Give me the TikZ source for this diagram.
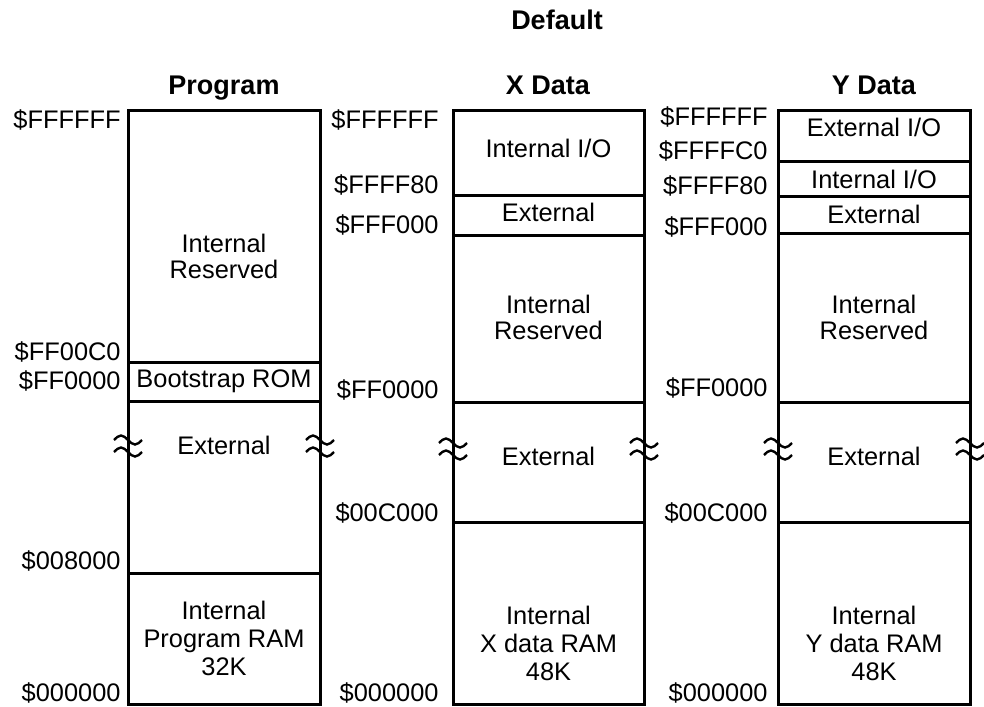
\documentclass[tikz,border=0pt]{standalone}
\usepackage{fontspec}
\setmainfont{Liberation Sans}
\begin{document}
\begin{tikzpicture}[x=0.5pt,y=-0.5pt,
  membox/.style={line width=1.5pt},
  divline/.style={line width=1.5pt},
  brkline/.style={line width=1.2pt},
  addr/.style={anchor=base east,inner sep=0pt,font=\fontsize{12.7}{14}\selectfont},
  lbl/.style={anchor=base,inner sep=0pt,font=\fontsize{12.7}{14}\selectfont},
  ttl/.style={anchor=base,inner sep=0pt,font=\bfseries\fontsize{13.5}{15}\selectfont}]
\useasboundingbox (0,0) rectangle (984,706);

% titles
\node[ttl] (tdef) at (557,30) {Default};
\node[ttl] (tprog) at (224,95) {Program};
\node[ttl] (tx) at (548,95) {X Data};
\node[ttl] (ty) at (874,95) {Y Data};

% boxes
\draw[membox] (128,111) rectangle (320,704);
\draw[membox] (453,111) rectangle (644,704);
\draw[membox] (778,111) rectangle (970,704);

% dividers
\foreach \yy in {362,401,573} \draw[divline] (128,\yy) -- (320,\yy);
\foreach \yy in {195,235,402,522} \draw[divline] (453,\yy) -- (644,\yy);
\foreach \yy in {161,196,233,402,522} \draw[divline] (778,\yy) -- (970,\yy);

% break marks
\foreach \xx/\yy in {128/440,128/452,320/440,320/452,
                     453/443,453/455,644/443,644/455,
                     778/443,778/455,970/443,970/455}
  \draw[brkline] (\xx-14,\yy) sin (\xx-7,\yy-4.5) cos (\xx,\yy) sin (\xx+7,\yy+4.5) cos (\xx+14,\yy);

% Program addresses
\node[addr] (pa1) at (121,128) {\$FFFFFF};
\node[addr] (pa2) at (121,360) {\$FF00C0};
\node[addr] (pa3) at (121,389) {\$FF0000};
\node[addr] (pa4) at (121,569) {\$008000};
\node[addr] (pa5) at (121,701) {\$000000};

% X addresses
\node[addr] (xa1) at (439,128) {\$FFFFFF};
\node[addr] (xa2) at (439,193) {\$FFFF80};
\node[addr] (xa3) at (439,233) {\$FFF000};
\node[addr] (xa4) at (439,398) {\$FF0000};
\node[addr] (xa5) at (439,521) {\$00C000};
\node[addr] (xa6) at (439,701) {\$000000};

% Y addresses
\node[addr] (ya1) at (768,126) {\$FFFFFF};
\node[addr] (ya2) at (768,159) {\$FFFFC0};
\node[addr] (ya3) at (768,194) {\$FFFF80};
\node[addr] (ya4) at (768,235) {\$FFF000};
\node[addr] (ya5) at (768,396) {\$FF0000};
\node[addr] (ya6) at (768,521) {\$00C000};
\node[addr] (ya7) at (768,701) {\$000000};

% Program contents
\node[lbl] (p1a) at (224,252) {Internal};
\node[lbl] (p1b) at (224,278) {Reserved};
\node[lbl] (p2) at (224,387) {Bootstrap ROM};
\node[lbl] (p3) at (224,454) {External};
\node[lbl] (p4a) at (224,619) {Internal};
\node[lbl] (p4b) at (224,647) {Program RAM};
\node[lbl] (p4c) at (224,675) {32K};

% X contents
\node[lbl] (x1) at (548.5,157) {Internal I/O};
\node[lbl] (x2) at (548.5,221) {External};
\node[lbl] (x3a) at (548.5,313) {Internal};
\node[lbl] (x3b) at (548.5,339) {Reserved};
\node[lbl] (x4) at (548.5,465) {External};
\node[lbl] (x5a) at (548.5,624) {Internal};
\node[lbl] (x5b) at (548.5,652) {X data RAM};
\node[lbl] (x5c) at (548.5,680) {48K};

% Y contents
\node[lbl] (y1) at (874,136) {External I/O};
\node[lbl] (y2) at (874,188) {Internal I/O};
\node[lbl] (y3) at (874,223) {External};
\node[lbl] (y4a) at (874,313) {Internal};
\node[lbl] (y4b) at (874,339) {Reserved};
\node[lbl] (y5) at (874,465) {External};
\node[lbl] (y6a) at (874,624) {Internal};
\node[lbl] (y6b) at (874,652) {Y data RAM};
\node[lbl] (y6c) at (874,680) {48K};
\end{tikzpicture}
\end{document}
